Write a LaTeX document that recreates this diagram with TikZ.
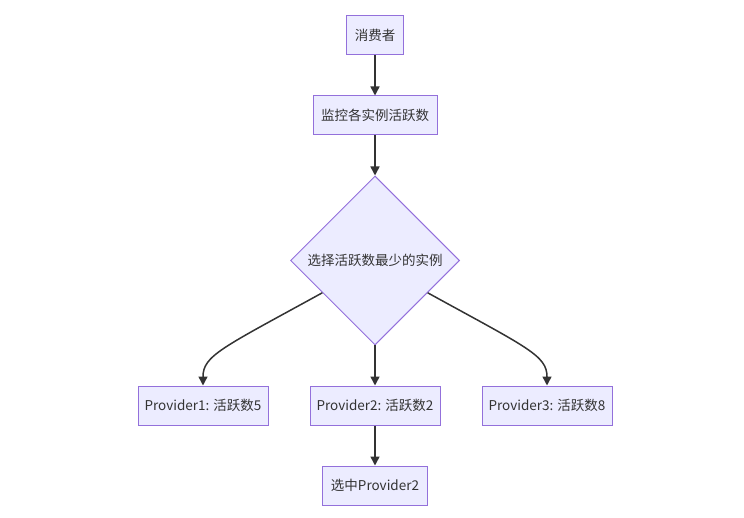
\documentclass[tikz,border=0pt]{standalone}
\usepackage{fontspec}
\setmainfont{Noto Sans CJK SC}
\usetikzlibrary{shapes.geometric,arrows.meta,positioning,calc}
\definecolor{boxfill}{HTML}{ECECFF}
\definecolor{boxline}{HTML}{9370DB}
\definecolor{linkcol}{HTML}{333333}

\begin{document}
\begin{tikzpicture}[
    x=1pt, y=1pt,
    node distance=40pt,
    font=\fontsize{13.5pt}{16pt}\selectfont,
    process/.style={rectangle, minimum height=39pt, inner xsep=8pt, text centered, draw=boxline, fill=boxfill, line width=1pt, text=linkcol},
    provider/.style={process, minimum width=130pt, inner xsep=4pt},
    decision/.style={diamond, aspect=1, minimum width=169pt, minimum height=169pt, inner sep=-12pt, text centered, draw=boxline, fill=boxfill, line width=1pt, text=linkcol},
    arrow/.style={draw=linkcol, line width=1.5pt, -{Triangle[length=9pt, width=9pt]}}
]

% Frame
\useasboundingbox (0,0) rectangle (744,-518);

% Main flow
\node[process] (consumer) at (375,-35.5) {消费者};
\node[process, below=of consumer] (monitor) {监控各实例活跃数};
\node[decision, below=of monitor] (select) {选择活跃数最少的实例};

% Providers
\node[provider, below=of select] (prov2) {Provider2: 活跃数2};
\node[provider, left=41pt of prov2] (prov1) {Provider1: 活跃数5};
\node[provider, right=41pt of prov2] (prov3) {Provider3: 活跃数8};

% Result
\node[process, below=of prov2] (chosen) {选中Provider2};

% Arrows
\draw[arrow] (consumer) -- (monitor);
\draw[arrow] (monitor) -- (select);
\draw[arrow] ($(select.west)!0.38!(select.south)$) .. controls +(-100,-55) and +(0,30) .. (prov1.north);
\draw[arrow] (select) -- (prov2);
\draw[arrow] ($(select.east)!0.38!(select.south)$) .. controls +(100,-55) and +(0,30) .. (prov3.north);
\draw[arrow] (prov2) -- (chosen);

\end{tikzpicture}
\end{document}
